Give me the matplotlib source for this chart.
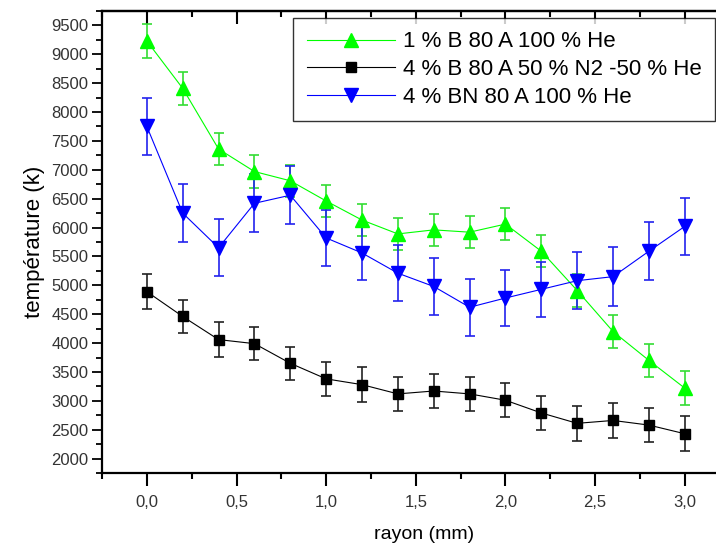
import numpy as np
import matplotlib.pyplot as plt
from matplotlib.ticker import MultipleLocator, FuncFormatter

plt.rcParams['font.family'] = ['Liberation Sans', 'DejaVu Sans']

# rayon (mm)
rayon = [0.0, 0.2, 0.4, 0.6, 0.8, 1.0, 1.2, 1.4, 1.6, 1.8, 2.0, 2.2, 2.4, 2.6, 2.8, 3.0]

# 1 % B 80 A 100 % He
t_b1 = [9230, 8410, 7360, 6970, 6810, 6460, 6130, 5890, 5960, 5920, 6060, 5590, 4910, 4200, 3700, 3220]
e_b1 = [290, 280, 280, 280, 280, 280, 280, 280, 280, 280, 280, 280, 290, 290, 290, 290]

# 4 % B 80 A 50 % N2 -50 % He
t_b4 = [4890, 4460, 4060, 3990, 3650, 3380, 3280, 3120, 3170, 3120, 3010, 2790, 2610, 2660, 2580, 2430]
e_b4 = [300, 290, 300, 290, 290, 290, 300, 300, 290, 290, 290, 300, 300, 300, 300, 300]

# 4 % BN 80 A 100 % He
t_bn = [7750, 6250, 5650, 6420, 6560, 5820, 5560, 5210, 4980, 4620, 4780, 4930, 5080, 5150, 5590, 6020]
e_bn = [490, 500, 490, 500, 500, 490, 470, 490, 490, 490, 490, 480, 490, 510, 500, 490]

labels = ['1 % B 80 A 100 % He', '4 % B 80 A 50 % N2 -50 % He', '4 % BN 80 A 100 % He']

fig = plt.figure(figsize=(7.16, 5.44), dpi=100)
ax = fig.add_axes([0.1425, 0.1305, 0.90, 0.8493])

c1 = ax.errorbar(rayon, t_b1, yerr=e_b1, color='#00ff00', ecolor='#33dd33', marker='^',
                 markersize=10, linewidth=0.8, elinewidth=1.2, capsize=3.5, capthick=1.2)
c2 = ax.errorbar(rayon, t_b4, yerr=e_b4, color='black', ecolor='#222222', marker='s',
                 markersize=6.5, linewidth=0.8, elinewidth=1.2, capsize=3.5, capthick=1.2)
c3 = ax.errorbar(rayon, t_bn, yerr=e_bn, color='#0000ff', ecolor='#2222ee', marker='v',
                 markersize=10, linewidth=0.8, elinewidth=1.2, capsize=3.5, capthick=1.2)

# right end runs past the figure edge, as in the original
ax.set_xlim(-0.25, 3.344)
ax.set_ylim(1750, 9750)
ax.xaxis.set_major_locator(MultipleLocator(0.5))
ax.xaxis.set_minor_locator(MultipleLocator(0.25))
ax.yaxis.set_major_locator(MultipleLocator(500))
ax.yaxis.set_minor_locator(MultipleLocator(250))
comma = FuncFormatter(lambda v, p: f'{v:.1f}'.replace('.', ',') if v <= 3.0 else '')
ax.xaxis.set_major_formatter(comma)

ax.tick_params(axis='y', which='major', labelsize=12, length=7, width=1.3, direction='out', pad=3,
               labelcolor='#333333')
ax.tick_params(axis='y', which='minor', length=4, width=1.3, direction='out')
ax.tick_params(axis='x', which='major', labelsize=12, length=9, width=1.5, direction='out', pad=7,
               labelcolor='#333333')
ax.tick_params(axis='x', which='minor', length=4.5, width=1.5, direction='out')
for sp in ax.spines.values():
    sp.set_linewidth(1.6)

top = ax.secondary_xaxis('top')
top.xaxis.set_major_locator(MultipleLocator(0.5))
top.xaxis.set_minor_locator(MultipleLocator(0.25))
top.tick_params(axis='x', which='major', length=9, width=1.5, direction='in', labeltop=False)
top.tick_params(axis='x', which='minor', length=4.5, width=1.5, direction='in')
top.spines['top'].set_linewidth(1.6)

ax.set_xlabel('rayon (mm)', fontsize=14, labelpad=11)
ax.set_ylabel('température (k)', fontsize=16, labelpad=4)

leg = ax.legend(handles=[c1[0], c2[0], c3[0]], labels=labels,
                loc='upper right', bbox_to_anchor=(0.999, 0.967), bbox_transform=fig.transFigure,
                fontsize=16, frameon=True, fancybox=False, edgecolor='black',
                handlelength=4.0, handletextpad=0.35, borderpad=0.6, labelspacing=0.3,
                borderaxespad=0)
leg.get_frame().set_linewidth(1.0)

fig.savefig('out.png', dpi=100)
